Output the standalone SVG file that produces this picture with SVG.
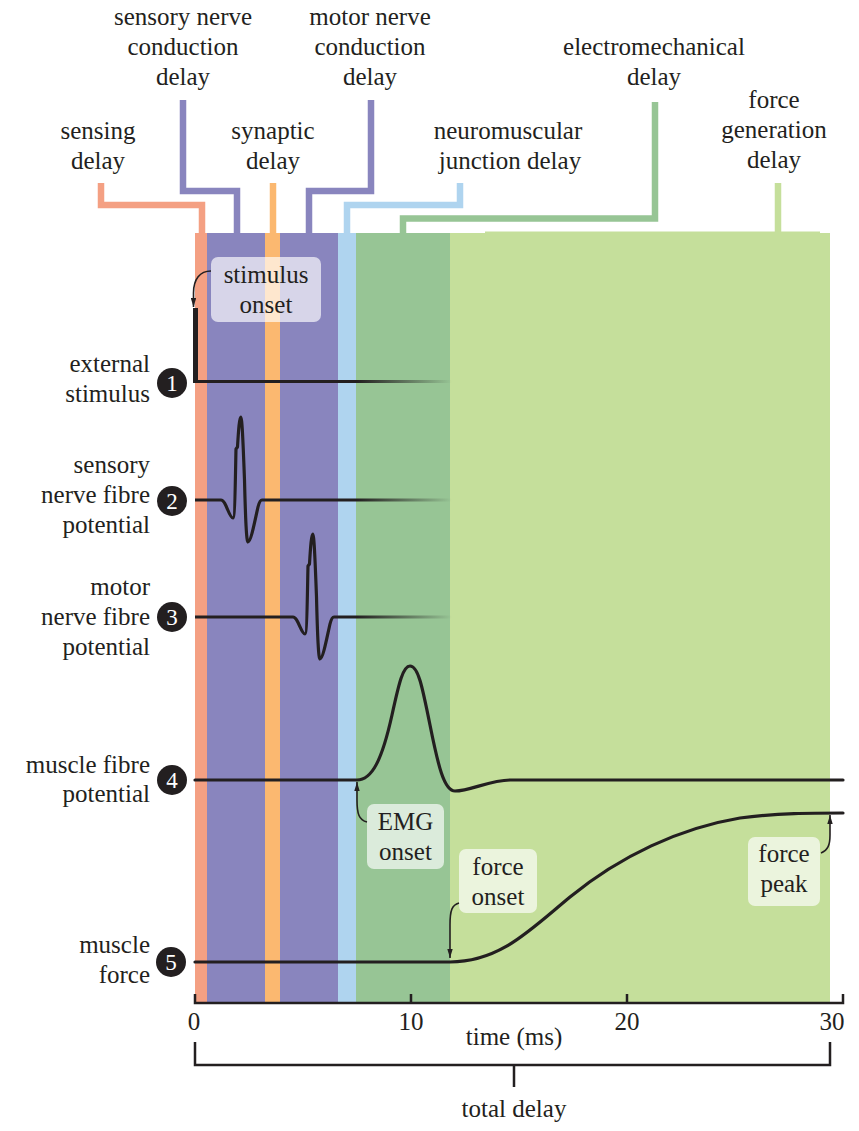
<svg xmlns="http://www.w3.org/2000/svg" width="859" height="1131" viewBox="0 0 859 1131" font-family="'Liberation Serif', 'DejaVu Serif', serif">
<style>
text{font-family:"Liberation Serif","DejaVu Serif",serif;font-size:25px;fill:#231f20}
.c{text-anchor:middle}
.r{text-anchor:end}
.num{fill:#fff;font-size:23px;text-anchor:middle}
.conn{fill:none;stroke-width:6.5;stroke-linecap:butt;stroke-linejoin:miter}
.trace{fill:none;stroke:#231f20;stroke-width:3.2;stroke-linejoin:round;stroke-linecap:round}
.arr{fill:none;stroke:#231f20;stroke-width:1.6}
.box{fill:#fff;fill-opacity:0.66}
.ax{fill:none;stroke:#231f20;stroke-width:2.5}
</style>
<defs>
<linearGradient id="fade" gradientUnits="userSpaceOnUse" x1="195" y1="0" x2="452" y2="0">
<stop offset="0" stop-color="#231f20"/>
<stop offset="0.63" stop-color="#231f20"/>
<stop offset="1" stop-color="#231f20" stop-opacity="0"/>
</linearGradient>
<marker id="ah" viewBox="0 0 10 6" refX="10" refY="3" markerWidth="9" markerHeight="5.4" markerUnits="userSpaceOnUse" orient="auto">
<path d="M0,0 L10,3 L0,6 Z" fill="#231f20"/>
</marker>
</defs>

<g id="bands">
<rect x="195" y="233" width="12" height="770" fill="#f4a083"/>
<rect x="207" y="233" width="58" height="770" fill="#8985be"/>
<rect x="265" y="233" width="15" height="770" fill="#fbb870"/>
<rect x="280" y="233" width="58" height="770" fill="#8985be"/>
<rect x="338" y="233" width="18" height="770" fill="#afd4ef"/>
<rect x="356" y="233" width="94" height="770" fill="#97c595"/>
<rect x="450" y="233" width="380" height="770" fill="#c5df9b"/>
<rect x="485" y="231.5" width="335" height="2" fill="#c5df9b"/>
</g>

<g id="connectors">
<path class="conn" stroke="#f4a083" d="M101,183 V205 H202 V233"/>
<path class="conn" stroke="#8985be" d="M183,100 V191 H237 V233"/>
<path class="conn" stroke="#fbb870" d="M273,183 V233"/>
<path class="conn" stroke="#8985be" d="M371,100 V191 H309 V233"/>
<path class="conn" stroke="#afd4ef" d="M347,233 V205 H460 V183"/>
<path class="conn" stroke="#97c595" d="M403,233 V218.5 H655 V102"/>
<path class="conn" stroke="#c5df9b" d="M778,183 V232"/>
</g>

<g id="label-sensing"><text class="c" x="98" y="139">sensing</text><text class="c" x="98" y="169">delay</text></g>
<g id="label-sensory-nerve"><text class="c" x="183" y="25">sensory nerve</text><text class="c" x="183" y="55">conduction</text><text class="c" x="183" y="85">delay</text></g>
<g id="label-synaptic"><text class="c" x="273" y="139">synaptic</text><text class="c" x="273" y="169">delay</text></g>
<g id="label-motor-nerve"><text class="c" x="370" y="25">motor nerve</text><text class="c" x="370" y="55">conduction</text><text class="c" x="370" y="85">delay</text></g>
<g id="label-nmj"><text class="c" x="508" y="139">neuromuscular</text><text class="c" x="510" y="169">junction delay</text></g>
<g id="label-electromechanical"><text class="c" x="654" y="55">electromechanical</text><text class="c" x="654" y="85">delay</text></g>
<g id="label-force-generation"><text class="c" x="774" y="108">force</text><text class="c" x="774" y="138">generation</text><text class="c" x="774" y="168">delay</text></g>

<g id="trace1">
<text class="r" x="150" y="372">external</text><text class="r" x="150" y="402">stimulus</text>
<circle cx="172" cy="383" r="15" fill="#231f20"/><text class="num" x="172" y="391">1</text>
<path d="M193.5,381.5 H452" fill="none" stroke="url(#fade)" stroke-width="3.2"/>
<path d="M195.5,308 V383" fill="none" stroke="#231f20" stroke-width="5"/>
</g>

<g id="trace2">
<text class="r" x="150" y="473">sensory</text><text class="r" x="150" y="503">nerve fibre</text><text class="r" x="150" y="533">potential</text>
<circle cx="172" cy="501" r="15" fill="#231f20"/><text class="num" x="172" y="509">2</text>
<path fill="none" stroke="url(#fade)" stroke-width="3.2" stroke-linejoin="round" d="M195,500 L221,500 C226,500 229,518 233,518 C235,518 235.5,470 236,449 L237.5,447 C238.5,430 239.5,417 240.7,417 C242,417 243,440 244.5,480 C245.5,520 246.5,542 248,542 C251,542 255,520 258,507 C259.5,501 260.5,500 262,500 L452,500"/>
</g>

<g id="trace3">
<text class="r" x="150" y="595">motor</text><text class="r" x="150" y="625">nerve fibre</text><text class="r" x="150" y="655">potential</text>
<circle cx="172" cy="617" r="15" fill="#231f20"/><text class="num" x="172" y="625">3</text>
<path fill="none" stroke="url(#fade)" stroke-width="3.2" stroke-linejoin="round" d="M195,617 L293,617 C298,617 301,634 305,634 C307,634 307.5,586 308,566 L309.5,564 C310.5,547 311.5,534 312.7,534 C314,534 315,557 316.5,597 C317.5,637 318.5,659 320,659 C323,659 327,637 330,624 C331.5,618 332.5,617 334,617 L452,617"/>
</g>

<g id="trace4">
<text class="r" x="150" y="773">muscle fibre</text><text class="r" x="150" y="802">potential</text>
<circle cx="172" cy="780" r="15" fill="#231f20"/><text class="num" x="172" y="788">4</text>
<path class="trace" d="M195,780 L357,780 C372,780 382,760 392,715 C399,683 403,666 410,666 C418,666 422,685 430,725 C438,765 444,791 455,791 C470,791 490,780 510,780 L843,780"/>
</g>

<g id="trace5">
<text class="r" x="150" y="953">muscle</text><text class="r" x="150" y="983">force</text>
<circle cx="171" cy="962" r="15" fill="#231f20"/><text class="num" x="171" y="970">5</text>
<path class="trace" d="M195,962 L450,962 C500,962 530,930 570,897 C620,856 680,828 740,818 C780,813 810,813 843,813"/>
</g>

<g id="callout-stimulus-onset">
<rect class="box" x="211" y="257" width="110" height="65" rx="7"/>
<text class="c" x="266" y="283">stimulus</text><text class="c" x="266" y="313">onset</text>
<path class="arr" marker-end="url(#ah)" d="M211,271 C200,271 193.5,279 193.5,293 L193.5,307"/>
</g>

<g id="callout-emg-onset">
<rect class="box" x="367" y="804" width="77" height="65" rx="7"/>
<text class="c" x="405.5" y="830">EMG</text><text class="c" x="405.5" y="860">onset</text>
<path class="arr" marker-end="url(#ah)" d="M367,822 C359,820 357,814 357,800 L357,782"/>
</g>

<g id="callout-force-onset">
<rect class="box" x="459" y="849" width="78" height="64" rx="7"/>
<text class="c" x="498" y="875">force</text><text class="c" x="498" y="905">onset</text>
<path class="arr" marker-end="url(#ah)" d="M459,903 C452,905 450,910 450,925 L450,958"/>
</g>

<g id="callout-force-peak">
<rect class="box" x="748" y="837" width="72" height="69" rx="7"/>
<text class="c" x="784" y="862">force</text><text class="c" x="784" y="892">peak</text>
<path class="arr" marker-end="url(#ah)" d="M821,853 C828,850 830,845 830,835 L830,815"/>
</g>

<g id="axis">
<path class="ax" d="M195,994 V1003 H843 V994 M411,994 V1003 M627,994 V1003"/>
<text class="c" x="194" y="1030">0</text>
<text class="c" x="411" y="1030">10</text>
<text class="c" x="627" y="1030">20</text>
<text class="c" x="832" y="1030">30</text>
<text class="c" x="514" y="1045">time (ms)</text>
</g>

<g id="total-delay">
<path class="ax" d="M195,1042 V1065 H830 V1042 M514,1065 V1087"/>
<text class="c" x="514" y="1117">total delay</text>
</g>
</svg>
